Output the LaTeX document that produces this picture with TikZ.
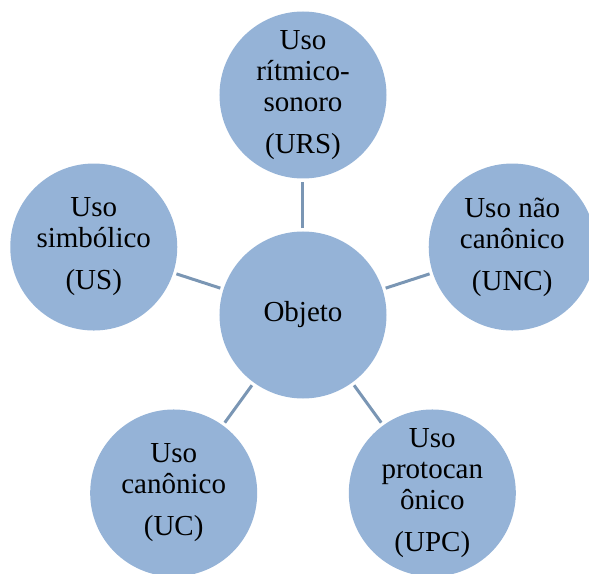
\documentclass[tikz,border=0pt]{standalone}
\usepackage{fontspec}
\setmainfont{Liberation Serif}
\usetikzlibrary{positioning}
\usepackage{xcolor}
\definecolor{circfill}{RGB}{149,179,215}
\definecolor{linkcol}{RGB}{122,150,180}

\begin{document}
\begin{tikzpicture}[
				x=0.5pt,y=0.5pt,
				uso/.style={circle,fill=circfill,minimum size=83.5pt,inner sep=0pt,align=center,font=\fontsize{14.5}{15.5}\selectfont},
				link/.style={linkcol,line width=1.5pt,shorten >=1.5pt,shorten <=1.5pt}
				]
				
				% area visibile
				\clip (-303,-258) rectangle (286,315);
				
				% cerchio centrale
				\node[uso] (objeto) at (0,0) {Objeto};
				
				% cerchi esterni
				\node[uso] (urs) at (90:220) {Uso\\rítmico-\\sonoro\\[5.5pt](URS)};
				\node[uso] (unc) at (18:220) {Uso não\\canônico\\[5.5pt](UNC)};
				\node[uso] (upc) at (-54:220) {Uso\\protocan\\ônico\\[5.5pt](UPC)};
				\node[uso] (uc) at (234:220) {Uso\\canônico\\[5.5pt](UC)};
				\node[uso] (us) at (162:220) {Uso\\simbólico\\[5.5pt](US)};
				
				% connessioni
				\draw[link] (objeto) -- (urs);
				\draw[link] (objeto) -- (unc);
				\draw[link] (objeto) -- (upc);
				\draw[link] (objeto) -- (uc);
				\draw[link] (objeto) -- (us);
				
			\end{tikzpicture}
\end{document}
